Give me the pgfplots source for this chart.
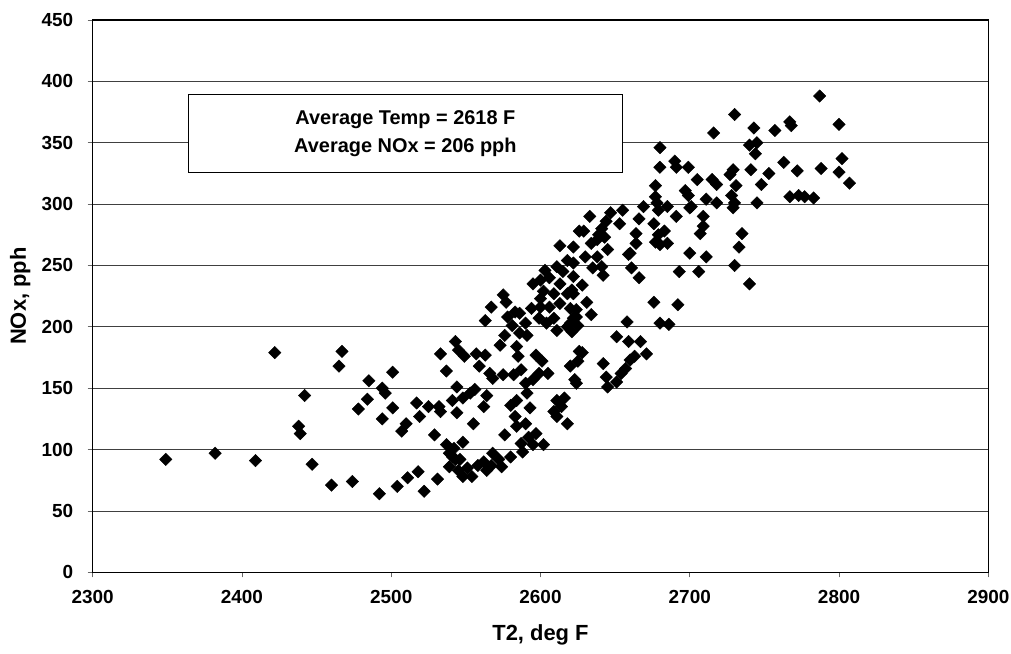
\documentclass[border=0pt]{standalone}
\usepackage{pgfplots}
\pgfplotsset{compat=1.18}
\usepackage{pgfplotstable}
\usepackage{fontspec}
\setmainfont{Liberation Sans}
\pgfplotstableread{
x y
2349 92
2382 97
2409 91
2422 179
2442 144
2438 119
2439 113
2447 88
2460 71
2467 180
2465 168
2474 74
2501 163
2485 156
2494 150
2496 146
2484 141
2478 133
2501 134
2494 125
2517 138
2525 135
2532 135
2533 131
2519 127
2510 121
2507 115
2529 112
2537 104
2539 97
2533 178
2537 164
2543 188
2544 151
2541 140
2544 130
2492 64
2504 70
2511 77
2518 82
2522 66
2531 76
2539 86
2626 278
2613 266
2622 265
2618 254
2611 249
2603 246
2615 245
2595 235
2600 238
2606 240
2613 235
2622 241
2602 229
2609 227
2618 227
2594 215
2600 216
2606 216
2613 219
2620 215
2624 208
2604 203
2611 197
2618 200
2599 207
2575 226
2577 220
2567 216
2563 205
2583 212
2578 208
2590 203
2581 201
2586 195
2591 193
2576 193
2573 185
2584 184
2585 176
2597 177
2601 172
2605 162
2599 162
2595 157
2587 165
2582 161
2575 161
2568 158
2566 162
2590 154
2591 146
2545 181
2549 176
2557 178
2563 177
2559 168
2556 149
2553 146
2564 144
2548 142
2562 135
2555 121
2580 136
2583 127
2584 119
2576 112
2590 121
2592 110
2587 105
2595 104
2602 104
2588 98
2584 140
2611 140
2609 131
2616 142
2618 121
2614 135
2625 172
2620 168
2623 157
2626 180
2548 106
2542 101
2541 94
2546 92
2551 85
2545 83
2554 78
2558 87
2562 90
2564 83
2568 97
2572 92
2574 86
2567 87
2580 94
2548 78
2543 92
2633 290
2629 278
2647 293
2655 295
2653 284
2641 280
2643 273
2638 271
2645 263
2630 257
2622 252
2635 248
2642 242
2628 234
2621 230
2631 220
2634 210
2624 214
2622 207
2625 201
2621 196
2628 179
2624 154
2642 170
2644 159
2645 151
2651 155
2657 166
2660 173
2663 176
2651 192
2659 188
2667 188
2671 178
2658 204
2676 220
2680 203
2686 202
2692 218
2661 248
2666 240
2660 260
2664 268
2664 276
2666 288
2669 298
2678 301
2685 298
2676 284
2679 275
2683 278
2677 269
2685 268
2691 290
2700 297
2700 260
2693 245
2706 245
2787 388
2730 373
2716 358
2743 362
2757 360
2767 367
2768 364
2740 348
2745 350
2744 341
2680 346
2680 330
2690 335
2691 330
2699 330
2705 320
2715 320
2718 316
2729 328
2727 324
2741 328
2753 325
2763 334
2772 327
2788 329
2677 315
2697 311
2699 307
2731 315
2748 316
2728 307
2730 301
2729 297
2711 304
2718 301
2745 301
2767 306
2773 307
2777 306
2783 305
2677 306
2701 298
2709 290
2802 337
2800 326
2807 317
2709 282
2707 276
2735 276
2733 265
2711 257
2730 250
2740 235
2800 365
2680 267
2634 268
2638 257
2641 249
2622 227
2600 223
2609 207
2620 203
2586 211
2644 286
2639 275
2679 295
2659 259
2654 162
2611 127
2597 113
2593 134
}\datatable
\begin{document}
\begin{tikzpicture}
\path[use as bounding box] (-92.7bp,-81.7bp) rectangle (918.3bp,572.3bp);
\begin{axis}[
  scale only axis,
  width=895.6bp, height=552.3bp,
  xmin=2300, xmax=2900, ymin=0, ymax=450,
  xtick={2300,2400,...,2900},
  ytick={0,50,...,450},
  axis line style={line width=1.3bp},
  tick align=outside, tick pos=left,
  major tick length=5bp,
  tick style={line width=0.8bp, black!60},
  ymajorgrids,
  grid style={line width=0.8bp, black!75},
  /pgf/number format/assume math mode=true,
  /pgf/number format/1000 sep={},
  ticklabel style={font=\fontsize{19}{21}\selectfont\bfseries},
  xticklabel style={yshift=-9bp},
  yticklabel style={xshift=-11bp},
  xlabel={T2, deg F},
  ylabel={NOx, pph},
  label style={font=\fontsize{22}{25}\selectfont\bfseries},
  xlabel style={at={(axis description cs:0.5,-0.114)}, anchor=center},
  ylabel style={at={(axis description cs:-0.081,0.5)}, anchor=center},
  clip=false,
]
\addplot[only marks, mark=square*, mark size=4.4bp, mark options={rotate=45, fill=black, draw=black}] table[x=x,y=y] {\datatable};
\draw[line width=1.3bp, fill=white] (axis cs:2364,325.6) rectangle (axis cs:2655,389.5);
\node[align=center, font=\fontsize{20}{28}\selectfont\bfseries] at (axis cs:2509.5,357.5) {Average Temp = 2618 F\\Average NOx = 206 pph};
\end{axis}
\end{tikzpicture}
\end{document}
